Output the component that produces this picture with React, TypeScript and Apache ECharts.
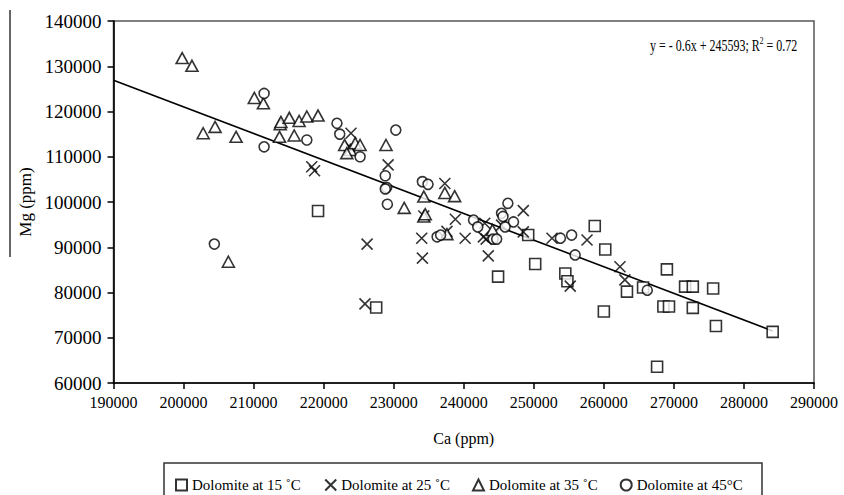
import React, { useEffect, useRef } from "react";
import * as echarts from "echarts";

// Ca (ppm), Mg (ppm)
const dolomite15: number[][] = [
  [219200, 98000], [227500, 76700], [244900, 83500], [249200, 92700], [258700, 94700],
  [260200, 89500], [250200, 86300], [254500, 84200], [254800, 82500], [263300, 80200],
  [265600, 81100], [260000, 75800], [267600, 63600], [269000, 85100], [271600, 81300],
  [272700, 81300], [275600, 80900], [268500, 76900], [269300, 76900], [272700, 76600],
  [276000, 72600], [284100, 71300],
];
const dolomite25: number[][] = [
  [218300, 107800], [218700, 106900], [223900, 115200], [223700, 112200], [229200, 108200],
  [226200, 90700], [225900, 77500], [237300, 104100], [234000, 92000], [234100, 87600],
  [238800, 96200], [240200, 92000], [243000, 95300], [243200, 91800], [243500, 88100],
  [237600, 93500], [248500, 98100], [248500, 93400], [245400, 94900], [242800, 92300],
  [252600, 92000], [257600, 91600], [255200, 81400], [262300, 85700], [263000, 82800],
  [234300, 96900],
];
const dolomite35: number[][] = [
  [199800, 131800], [201200, 130100], [202800, 115200], [204500, 116600], [207500, 114400],
  [210100, 123000], [211400, 121800], [213800, 117200], [213900, 117700], [213700, 114400],
  [215100, 118600], [215800, 114700], [216500, 117900], [217600, 118900], [219200, 119100],
  [223000, 112600], [223800, 111500], [224500, 113000], [225200, 112600], [223300, 110800],
  [228900, 112600], [206400, 86800], [234300, 101200], [237300, 102000], [238700, 101300],
  [231500, 98700], [234300, 96800], [234500, 97300], [237600, 92900], [244100, 93800],
];
const dolomite45: number[][] = [
  [211500, 124000], [211500, 112200], [217600, 113700], [221900, 117400], [222300, 115000],
  [225200, 110000], [204400, 90700], [228800, 105800], [229000, 103200], [228800, 102900],
  [229100, 99500], [230300, 115900], [234100, 104500], [234900, 103900], [241400, 96000],
  [242000, 94500], [236200, 92300], [236700, 92700], [244200, 91800], [244700, 91800],
  [245400, 97500], [245600, 96800], [246300, 99700], [247100, 95600], [245900, 94500],
  [253800, 92000], [255400, 92700], [255900, 88300], [266200, 80500],
];
const trendLine: number[][] = [
  [190000, 126900], [284100, 71500],
];
const seriesNames = [
  "Dolomite at 15 \u02DAC",
  "Dolomite at 25 \u02DAC",
  "Dolomite at 35 \u02DAC",
  "Dolomite at 45\u00B0C",
];
const equationText = ["y = - 0.6x + 245593; R", "2", " = 0.72"];

const FONT = "'Liberation Serif', 'Times New Roman', serif";
const CROSS = "path://M0,0L10,10M10,0L0,10";

export default function App() {
  const ref = useRef<HTMLDivElement>(null);
  useEffect(() => {
    if (!ref.current) return;
    const chart = echarts.init(ref.current, null, { renderer: "svg" });
    const markerStyle = { color: "#fff", borderColor: "#000", borderWidth: 1.6 };
    const plain = (v: number) => String(v);
    chart.setOption({
      animation: false,
      backgroundColor: "#fff",
      grid: {
        left: 113.5, right: 30, top: 21, bottom: 112,
        show: true, borderColor: "#555", borderWidth: 1.5,
      },
      xAxis: {
        type: "value", min: 190000, max: 290000, interval: 10000,
        name: "Ca (ppm)", nameLocation: "middle", nameGap: 47,
        nameTextStyle: { fontFamily: FONT, fontSize: 16, color: "#000" },
        axisLine: { show: true, lineStyle: { color: "#000", width: 1.6 } },
        axisTick: { show: true, length: 6, lineStyle: { color: "#000", width: 1.5 } },
        axisLabel: { fontFamily: FONT, fontSize: 16, color: "#000", margin: 11, formatter: plain },
        splitLine: { show: false },
      },
      yAxis: {
        type: "value", min: 60000, max: 140000, interval: 10000,
        name: "Mg (ppm)", nameLocation: "middle", nameGap: 78,
        nameTextStyle: { fontFamily: FONT, fontSize: 17, color: "#000" },
        axisLine: { show: true, lineStyle: { color: "#000", width: 1.6 } },
        axisTick: { show: true, length: 6, lineStyle: { color: "#000", width: 1.5 } },
        axisLabel: { fontFamily: FONT, fontSize: 19, color: "#000", margin: 12, formatter: plain },
        splitLine: { show: false },
      },
      legend: {
        data: seriesNames,
        left: 170, top: 472,
        itemWidth: 11, itemHeight: 11, itemGap: 22,
        textStyle: { fontFamily: FONT, fontSize: 15, color: "#000" },
      },
      graphic: [
        {
          type: "rect", shape: { x: 164, y: 463, width: 598, height: 45 },
          style: { fill: "none", stroke: "#333", lineWidth: 1.5 }, silent: true,
        },
        {
          type: "line", shape: { x1: 10, y1: 10, x2: 10, y2: 257 },
          style: { stroke: "#000", lineWidth: 1.2 }, silent: true,
        },
        {
          type: "text", x: 650, y: 45, scaleX: 0.75,
          style: {
            text: `{a|${equationText[0]}}{s|${equationText[1]}}{a|${equationText[2]}}`,
            verticalAlign: "middle",
            rich: {
              a: { fontFamily: FONT, fontSize: 16, fill: "#000" },
              s: { fontFamily: FONT, fontSize: 10, fill: "#000", verticalAlign: "top", padding: [0, 0, 9, 0] },
            },
          },
        },
      ],
      series: [
        {
          name: seriesNames[0], type: "scatter", data: dolomite15,
          symbol: "rect", symbolSize: 11, itemStyle: markerStyle, z: 3,
        },
        {
          name: seriesNames[1], type: "scatter", data: dolomite25,
          symbol: CROSS, symbolSize: 11,
          itemStyle: { color: "none", borderColor: "#000", borderWidth: 1.6 }, z: 3,
        },
        {
          name: seriesNames[2], type: "scatter", data: dolomite35,
          symbol: "triangle", symbolSize: [12, 11], itemStyle: markerStyle, z: 3,
        },
        {
          name: seriesNames[3], type: "scatter", data: dolomite45,
          symbol: "circle", symbolSize: 10, itemStyle: markerStyle, z: 3,
        },
        {
          name: "trend", type: "line", data: trendLine, symbol: "none",
          lineStyle: { color: "#000", width: 1.6 }, z: 2, silent: true,
        },
      ],
    });
    return () => chart.dispose();
  }, []);
  return <div ref={ref} style={{ width: 844, height: 495, position: "absolute", left: 0, top: 0 }} />;
}
